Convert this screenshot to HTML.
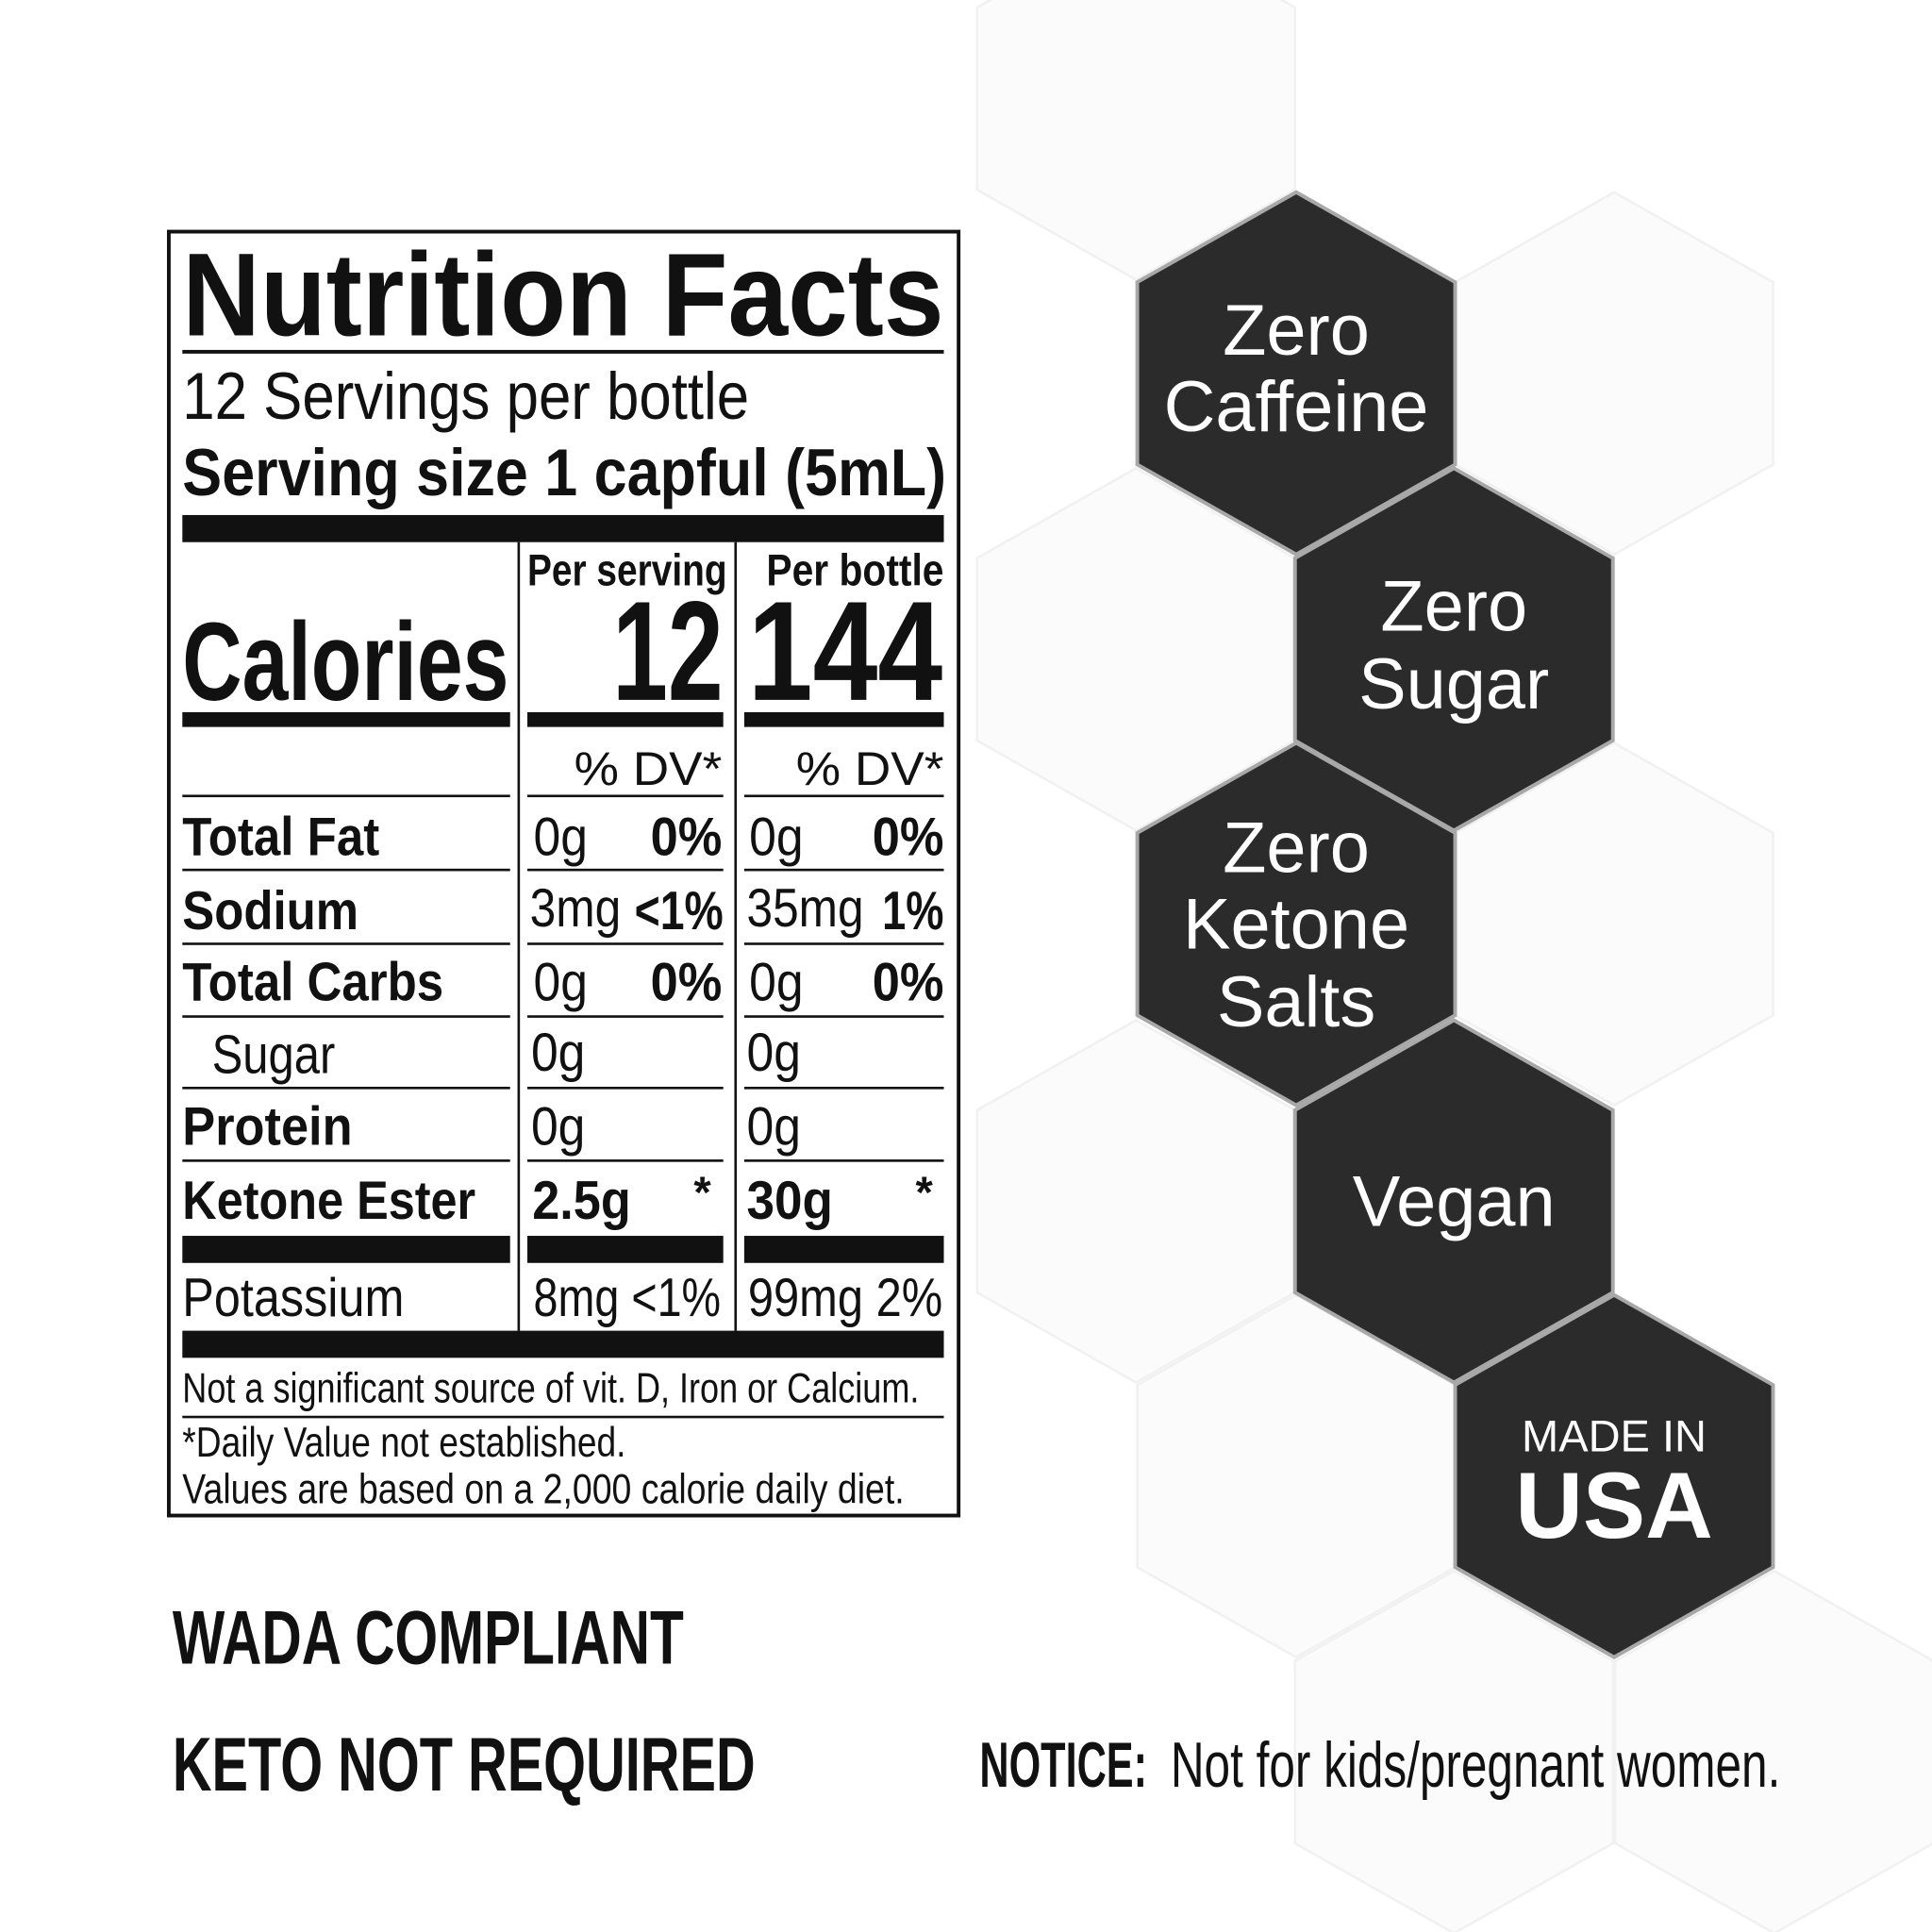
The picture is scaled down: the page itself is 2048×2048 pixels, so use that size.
<!DOCTYPE html>
<html><head><meta charset="utf-8"><style>
html,body{margin:0;padding:0;background:#fff;}
svg{display:block;}
text{font-family:"Liberation Sans",sans-serif;fill:#111;}
text.w{fill:#fff;}
</style></head><body>
<svg width="2048" height="2048" viewBox="0 0 1568 1568" xmlns="http://www.w3.org/2000/svg">
<defs>
<polygon id="hx" points="0,-147 129,-74 129,74 0,147 -129,74 -129,-74"/>
</defs>
<rect width="1568" height="1568" fill="#fff"/>
<g fill="#fbfbfb" stroke="#f1f1f1" stroke-width="2">
<use href="#hx" x="922" y="80"/>
<use href="#hx" x="1310" y="303"/>
<use href="#hx" x="922" y="527"/>
<use href="#hx" x="1310" y="750"/>
<use href="#hx" x="922" y="975"/>
<use href="#hx" x="1052" y="1198"/>
<use href="#hx" x="1440" y="1422"/>
<use href="#hx" x="1180" y="1422"/>
</g>
<g fill="#2c2b2b" stroke="#a8a8a8" stroke-width="3">
<use href="#hx" x="1052" y="303"/>
<use href="#hx" x="1180" y="527"/>
<use href="#hx" x="1052" y="750"/>
<use href="#hx" x="1180" y="975"/>
<use href="#hx" x="1310" y="1198"/>
</g>
<g text-anchor="middle" font-size="58">
<text class="w" x="1052" y="288">Zero</text>
<text class="w" x="1052" y="350">Caffeine</text>
<text class="w" x="1180" y="512">Zero</text>
<text class="w" x="1180" y="575">Sugar</text>
<text class="w" x="1052" y="708">Zero</text>
<text class="w" x="1052" y="770">Ketone</text>
<text class="w" x="1052" y="833">Salts</text>
<text class="w" x="1180" y="995">Vegan</text>
<text class="w" x="1310" y="1178" font-size="36">MADE IN</text>
<text class="w" x="1310" y="1248" font-size="76" font-weight="bold">USA</text>
</g>

<rect x="137" y="188" width="641" height="1042" fill="#fff" stroke="#111" stroke-width="3"/>
<g fill="#111">
<rect x="148" y="284" width="618" height="3"/>
<rect x="148" y="418" width="618" height="22"/>
<rect x="420" y="440" width="2" height="640"/>
<rect x="596" y="440" width="2" height="640"/>
<rect x="148" y="578" width="266" height="12"/>
<rect x="428" y="578" width="159" height="12"/>
<rect x="604" y="578" width="162" height="12"/>
<rect x="148" y="645" width="266" height="2"/><rect x="428" y="645" width="159" height="2"/><rect x="604" y="645" width="162" height="2"/>
<rect x="148" y="705" width="266" height="2"/><rect x="428" y="705" width="159" height="2"/><rect x="604" y="705" width="162" height="2"/>
<rect x="148" y="765" width="266" height="2"/><rect x="428" y="765" width="159" height="2"/><rect x="604" y="765" width="162" height="2"/>
<rect x="148" y="824" width="266" height="2"/><rect x="428" y="824" width="159" height="2"/><rect x="604" y="824" width="162" height="2"/>
<rect x="148" y="882" width="266" height="2"/><rect x="428" y="882" width="159" height="2"/><rect x="604" y="882" width="162" height="2"/>
<rect x="148" y="941" width="266" height="2"/><rect x="428" y="941" width="159" height="2"/><rect x="604" y="941" width="162" height="2"/>
<rect x="148" y="1003" width="266" height="22"/><rect x="428" y="1003" width="159" height="22"/><rect x="604" y="1003" width="162" height="22"/>
<rect x="148" y="1080" width="618" height="22"/>
<rect x="148" y="1149" width="618" height="2"/>
</g>
<g>
<text x="148" y="272" font-size="96" font-weight="bold" textLength="618" lengthAdjust="spacingAndGlyphs">Nutrition Facts</text>
<text x="148" y="340" font-size="54" textLength="460" lengthAdjust="spacingAndGlyphs">12 Servings per bottle</text>
<text x="148" y="402" font-size="54" font-weight="bold" textLength="620" lengthAdjust="spacingAndGlyphs">Serving size 1 capful (5mL)</text>
<text x="428" y="475" font-size="36" font-weight="bold" textLength="162" lengthAdjust="spacingAndGlyphs">Per serving</text>
<text x="622" y="475" font-size="36" font-weight="bold" textLength="144" lengthAdjust="spacingAndGlyphs">Per bottle</text>
<text x="148" y="568" font-size="90" font-weight="bold" textLength="265" lengthAdjust="spacingAndGlyphs">Calories</text>
<text x="497" y="568" font-size="115" font-weight="bold" textLength="90" lengthAdjust="spacingAndGlyphs">12</text>
<text x="607" y="568" font-size="115" font-weight="bold" textLength="158" lengthAdjust="spacingAndGlyphs">144</text>
<text x="466" y="637" font-size="38" textLength="120" lengthAdjust="spacingAndGlyphs">% DV*</text>
<text x="646" y="637" font-size="38" textLength="120" lengthAdjust="spacingAndGlyphs">% DV*</text>

<text x="148" y="694" font-size="44" font-weight="bold" textLength="160" lengthAdjust="spacingAndGlyphs">Total Fat</text>
<text x="148" y="754" font-size="44" font-weight="bold" textLength="143" lengthAdjust="spacingAndGlyphs">Sodium</text>
<text x="148" y="812" font-size="44" font-weight="bold" textLength="212" lengthAdjust="spacingAndGlyphs">Total Carbs</text>
<text x="172" y="871" font-size="44" textLength="100" lengthAdjust="spacingAndGlyphs">Sugar</text>
<text x="148" y="929" font-size="44" font-weight="bold" textLength="138" lengthAdjust="spacingAndGlyphs">Protein</text>
<text x="148" y="989" font-size="44" font-weight="bold" textLength="238" lengthAdjust="spacingAndGlyphs">Ketone Ester</text>
<text x="148" y="1068" font-size="44" textLength="180" lengthAdjust="spacingAndGlyphs">Potassium</text>

<text x="433" y="694" font-size="44" textLength="44" lengthAdjust="spacingAndGlyphs">0g</text>
<text x="528" y="694" font-size="44" font-weight="bold" textLength="58" lengthAdjust="spacingAndGlyphs">0%</text>
<text x="608" y="694" font-size="44" textLength="44" lengthAdjust="spacingAndGlyphs">0g</text>
<text x="708" y="694" font-size="44" font-weight="bold" textLength="58" lengthAdjust="spacingAndGlyphs">0%</text>

<text x="430" y="752" font-size="44" textLength="74" lengthAdjust="spacingAndGlyphs">3mg</text>
<text x="515" y="754" font-size="44" font-weight="bold" textLength="72" lengthAdjust="spacingAndGlyphs">&lt;1%</text>
<text x="606" y="752" font-size="44" textLength="95" lengthAdjust="spacingAndGlyphs">35mg</text>
<text x="716" y="754" font-size="44" font-weight="bold" textLength="50" lengthAdjust="spacingAndGlyphs">1%</text>

<text x="433" y="812" font-size="44" textLength="44" lengthAdjust="spacingAndGlyphs">0g</text>
<text x="528" y="812" font-size="44" font-weight="bold" textLength="58" lengthAdjust="spacingAndGlyphs">0%</text>
<text x="608" y="812" font-size="44" textLength="44" lengthAdjust="spacingAndGlyphs">0g</text>
<text x="708" y="812" font-size="44" font-weight="bold" textLength="58" lengthAdjust="spacingAndGlyphs">0%</text>

<text x="431" y="869" font-size="44" textLength="44" lengthAdjust="spacingAndGlyphs">0g</text>
<text x="606" y="869" font-size="44" textLength="44" lengthAdjust="spacingAndGlyphs">0g</text>
<text x="431" y="929" font-size="44" textLength="44" lengthAdjust="spacingAndGlyphs">0g</text>
<text x="606" y="929" font-size="44" textLength="44" lengthAdjust="spacingAndGlyphs">0g</text>

<text x="432" y="989" font-size="44" font-weight="bold" textLength="80" lengthAdjust="spacingAndGlyphs">2.5g</text>
<text x="563" y="980" font-size="36" font-weight="bold">*</text>
<text x="606" y="989" font-size="44" font-weight="bold" textLength="70" lengthAdjust="spacingAndGlyphs">30g</text>
<text x="743" y="980" font-size="36" font-weight="bold">*</text>

<text x="433" y="1068" font-size="44" textLength="152" lengthAdjust="spacingAndGlyphs">8mg &lt;1%</text>
<text x="607" y="1068" font-size="44" textLength="158" lengthAdjust="spacingAndGlyphs">99mg 2%</text>

<text x="148" y="1138" font-size="34" textLength="598" lengthAdjust="spacingAndGlyphs">Not a significant source of vit. D, Iron or Calcium.</text>
<text x="148" y="1182" font-size="34" textLength="360" lengthAdjust="spacingAndGlyphs">*Daily Value not established.</text>
<text x="148" y="1220" font-size="34" textLength="586" lengthAdjust="spacingAndGlyphs">Values are based on a 2,000 calorie daily diet.</text>

<text x="140" y="1350" font-size="62" font-weight="bold" textLength="415" lengthAdjust="spacingAndGlyphs">WADA COMPLIANT</text>
<text x="140" y="1453" font-size="62" font-weight="bold" textLength="473" lengthAdjust="spacingAndGlyphs">KETO NOT REQUIRED</text>
<text x="795" y="1450" font-size="52" font-weight="bold" textLength="136" lengthAdjust="spacingAndGlyphs">NOTICE:</text>
<text x="950" y="1450" font-size="52" textLength="495" lengthAdjust="spacingAndGlyphs">Not for kids/pregnant women.</text>
</g>
</svg>
</body></html>
